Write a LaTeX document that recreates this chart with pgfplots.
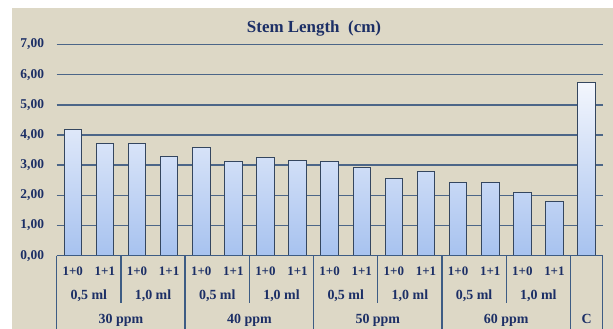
\documentclass[border=0pt]{standalone}
\usepackage{fontspec}
\setmainfont{Liberation Serif}
\usepackage{pgfplots}
\pgfplotsset{compat=1.18}
\definecolor{bg}{HTML}{DDD8C6}
\definecolor{navy}{HTML}{1C2F66}
\definecolor{gridc}{HTML}{4C6688}
\definecolor{linec}{HTML}{3D5C84}
\definecolor{bartop}{HTML}{F3F6FD}
\definecolor{barbot}{HTML}{A7C2EF}
\definecolor{barline}{HTML}{34465F}
\begin{document}
\begin{tikzpicture}
\useasboundingbox (0,0) rectangle (613bp,-329bp);
\fill[bg] (12bp,-8bp) rectangle (613bp,-329bp);
\begin{axis}[
  at={(56.7bp,-255.7bp)}, anchor=south west,
  scale only axis, width=545.9bp, height=211.2bp,
  xmin=-0.5, xmax=16.5, ymin=0, ymax=7,
  ytick={0,1,...,7},
  xtick={0,1,...,16},
  xticklabels={1+0,1+1,1+0,1+1,1+0,1+1,1+0,1+1,1+0,1+1,1+0,1+1,1+0,1+1,1+0,1+1,{}},
  axis line style={draw=none},
  tick style={draw=none},
  major tick length=0pt,
  ymajorgrids,
  major grid style={gridc, line width=1.4bp},
  yticklabel style={anchor=east, inner sep=0pt, xshift=-12.5bp, font=\fontsize{13.5}{15}\selectfont\bfseries, text=navy,
    /pgf/number format/.cd, fixed, fixed zerofill, precision=2, use comma, assume math mode=true},
  xticklabel style={anchor=base, inner sep=0pt, yshift=-20bp, font=\fontsize{13}{15}\selectfont\bfseries, text=navy},
  clip=false,
  ybar, bar width=17.5bp,
]
\addplot[draw=barline, line width=0.9bp, top color=bartop, bottom color=barbot] coordinates {
(0,4.17) (1,3.73) (2,3.72) (3,3.30) (4,3.60) (5,3.14) (6,3.26) (7,3.17)
(8,3.13) (9,2.92) (10,2.57) (11,2.79) (12,2.43) (13,2.43) (14,2.09) (15,1.80) (16,5.75)};
% table lines
\draw[linec, line width=1.3bp] (axis cs:-0.5,0) -- (axis cs:16.5,0);
\draw[linec, line width=1.3bp] (axis cs:-0.5,0) -- ++(0bp,-75bp);
\draw[linec, line width=1.3bp] (axis cs:3.5,0) -- ++(0bp,-75bp);
\draw[linec, line width=1.3bp] (axis cs:7.5,0) -- ++(0bp,-75bp);
\draw[linec, line width=1.3bp] (axis cs:11.5,0) -- ++(0bp,-75bp);
\draw[linec, line width=1.3bp] (axis cs:15.5,0) -- ++(0bp,-75bp);
\draw[linec, line width=1.3bp] (axis cs:16.5,0) -- ++(0bp,-75bp);
\draw[linec, line width=1.3bp] (axis cs:1.5,0) -- ++(0bp,-47.5bp);
\draw[linec, line width=1.3bp] (axis cs:5.5,0) -- ++(0bp,-47.5bp);
\draw[linec, line width=1.3bp] (axis cs:9.5,0) -- ++(0bp,-47.5bp);
\draw[linec, line width=1.3bp] (axis cs:13.5,0) -- ++(0bp,-47.5bp);
% row 2
\tikzset{lab/.style={anchor=base, inner sep=0pt, font=\fontsize{14}{16}\selectfont\bfseries, text=navy}}
\node[lab, yshift=-43.3bp] at (axis cs:0.5,0) {0,5 ml};
\node[lab, yshift=-43.3bp] at (axis cs:2.5,0) {1,0 ml};
\node[lab, yshift=-43.3bp] at (axis cs:4.5,0) {0,5 ml};
\node[lab, yshift=-43.3bp] at (axis cs:6.5,0) {1,0 ml};
\node[lab, yshift=-43.3bp] at (axis cs:8.5,0) {0,5 ml};
\node[lab, yshift=-43.3bp] at (axis cs:10.5,0) {1,0 ml};
\node[lab, yshift=-43.3bp] at (axis cs:12.5,0) {0,5 ml};
\node[lab, yshift=-43.3bp] at (axis cs:14.5,0) {1,0 ml};
% row 3
\node[lab, yshift=-67.6bp] at (axis cs:1.5,0) {30 ppm};
\node[lab, yshift=-67.6bp] at (axis cs:5.5,0) {40 ppm};
\node[lab, yshift=-67.6bp] at (axis cs:9.5,0) {50 ppm};
\node[lab, yshift=-67.6bp] at (axis cs:13.5,0) {60 ppm};
\node[lab, yshift=-67.6bp] at (axis cs:16,0) {C};
\end{axis}
\node[anchor=base, inner sep=0pt, font=\fontsize{17}{20}\selectfont\bfseries, text=navy] at (314bp,-32.3bp) {Stem Length\ \ (cm)};
\end{tikzpicture}
\end{document}
